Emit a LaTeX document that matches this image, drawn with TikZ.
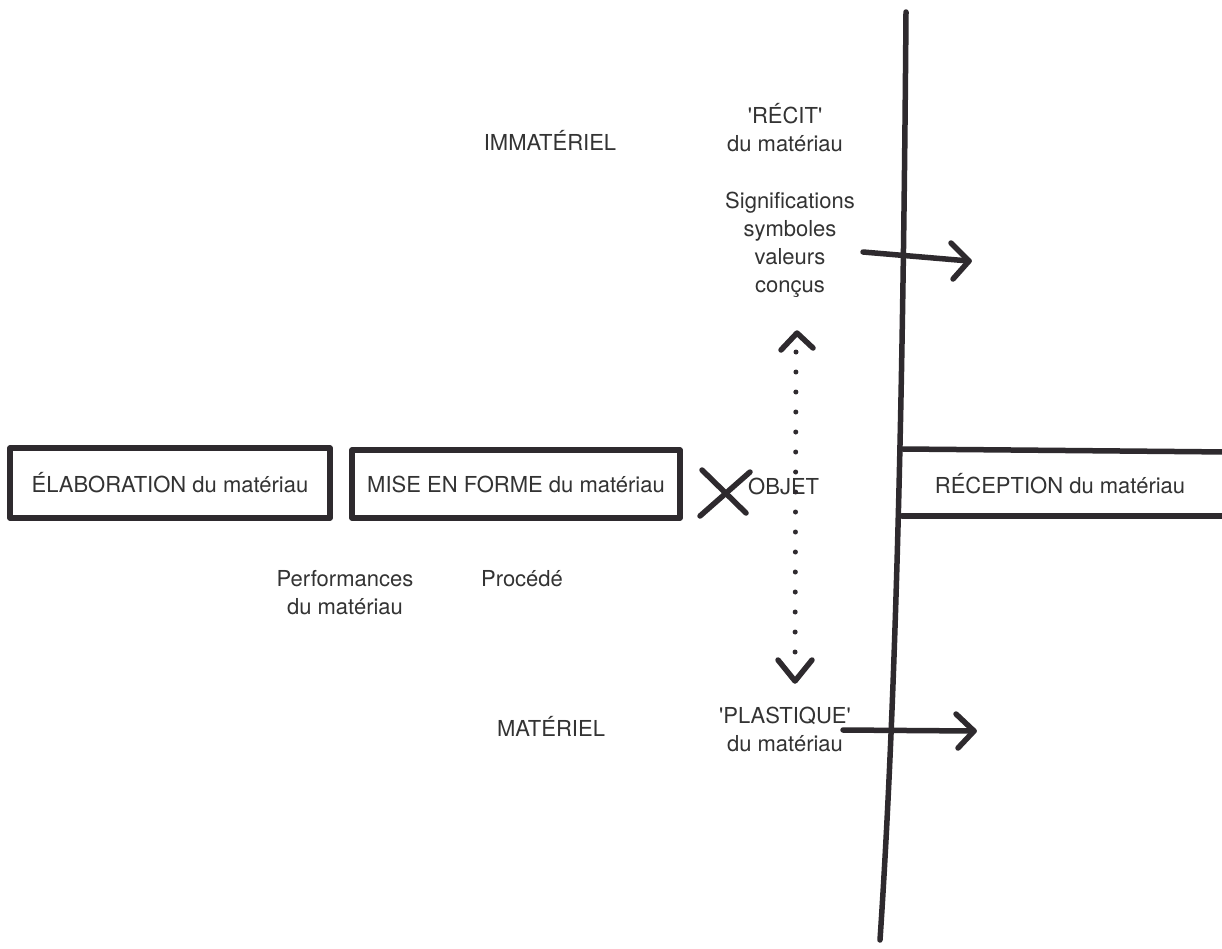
\documentclass[tikz,border=0pt]{standalone}
\usepackage{fontspec}
\setmainfont{TeX Gyre Heros}[Ligatures=TeXOff]
\begin{document}
\begin{tikzpicture}[x=1pt,y=-1pt,
  ink/.style={draw=inkc,line width=5.5pt,line cap=round,line join=round},
  lbl/.style={text=txtc,font=\fontsize{22}{28}\selectfont,inner sep=0pt,align=center},
  boxn/.style={ink,rectangle,inner sep=0pt,text=txtc,font=\fontsize{22}{28}\selectfont},
  dotline/.style={draw=inkc,line width=5pt,line cap=round,dash pattern=on 0pt off 20pt},
]
\definecolor{inkc}{HTML}{2E2A2E}
\definecolor{txtc}{HTML}{333333}
\useasboundingbox (0,0) rectangle (1222,948);
\fill[white] (0,0) rectangle (1222,948);

% vertical separator
\coordinate (vtop) at (906,12);
\coordinate (vbot) at (880,940);
\draw[ink] (vtop) .. controls (903,400) and (896,700) .. (vbot);

% boxes
\node[boxn,minimum width=320pt,minimum height=70pt] (elab) at (170,483) {ÉLABORATION du matériau};
\node[boxn,minimum width=328pt,minimum height=68pt] (mise) at (516,484) {MISE EN FORME du matériau};
\coordinate (rtl) at (903,449);
\coordinate (rbl) at (902,516);
\coordinate (rtr) at (1230,452);
\coordinate (rbr) at (1230,516);
\draw[ink] (rtl) -- (rtr);
\draw[ink] (rbl) -- (rbr);
\node[lbl] (recep) at (1060,484) {RÉCEPTION du matériau};

% cross
\coordinate (xa) at (702,470);
\coordinate (xb) at (746,513);
\coordinate (xc) at (700,516);
\coordinate (xd) at (750,472);
\draw[ink] (xa) -- (xb);
\draw[ink] (xc) -- (xd);
\node[lbl,anchor=west] (objet) at (748,486) {OBJET};

% dotted double arrow
\coordinate (dtop) at (796,352);
\coordinate (dbot) at (795,668);
\draw[dotline] (dtop) -- (dbot);
\coordinate (ut) at (797,333);
\draw[ink] (781,350) -- (ut) -- (813,348);
\coordinate (dt) at (795,681);
\draw[ink] (778,660) -- (dt) -- (812,660);

% upper arrow
\coordinate (a1s) at (863,252);
\coordinate (a1e) at (969,261);
\draw[ink] (a1s) -- (a1e);
\draw[ink] (951,243) -- (a1e) -- (953,279);

% lower arrow
\coordinate (a2s) at (843,730);
\coordinate (a2e) at (974,731);
\draw[ink] (a2s) -- (a2e);
\draw[ink] (956,714) -- (a2e) -- (958,748);

% labels
\node[lbl] (immat) at (550,140) {IMMATÉRIEL};
\node[lbl] (recit) at (785,128) {'RÉCIT'\\du matériau};
\node[lbl] (sign) at (790,245) {Significations\\symboles\\valeurs\\conçus};
\node[lbl] (perf) at (345,593) {Performances\\du matériau};
\node[lbl] (proc) at (522,579) {Procédé};
\node[lbl] (mat) at (551,726) {MATÉRIEL};
\node[lbl] (plast) at (785,729) {'PLASTIQUE'\\du matériau};
\end{tikzpicture}
\end{document}
